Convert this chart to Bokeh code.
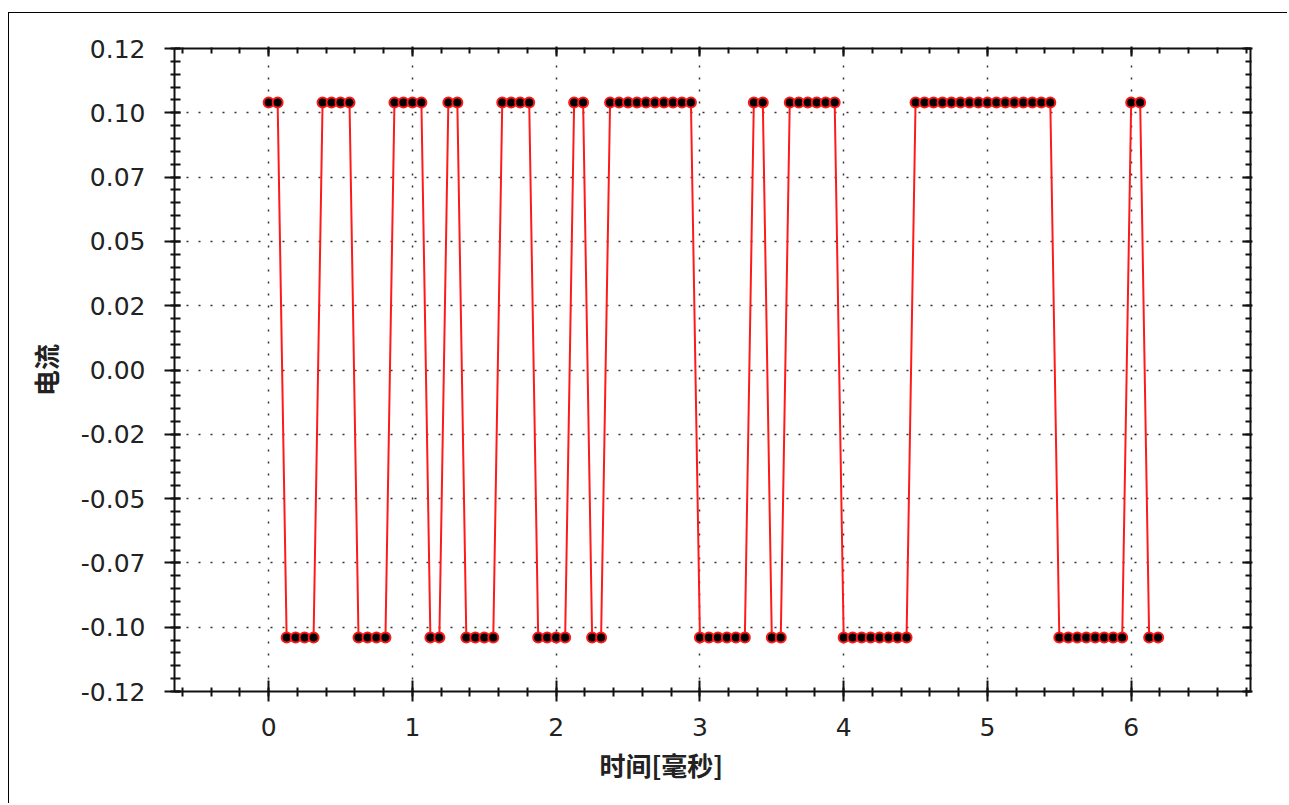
import numpy as np
from bokeh.plotting import figure
from bokeh.models import LinearAxis, FixedTicker, Range1d, ColumnDataSource, Title
from bokeh.embed import file_html
from bokeh.resources import INLINE

# ---- data ----
time_ms = [
    0.0, 0.0625, 0.125, 0.1875, 0.25, 0.3125, 0.375, 0.4375, 0.5, 0.5625,
    0.625, 0.6875, 0.75, 0.8125, 0.875, 0.9375, 1.0, 1.0625, 1.125, 1.1875,
    1.25, 1.3125, 1.375, 1.4375, 1.5, 1.5625, 1.625, 1.6875, 1.75, 1.8125,
    1.875, 1.9375, 2.0, 2.0625, 2.125, 2.1875, 2.25, 2.3125, 2.375, 2.4375,
    2.5, 2.5625, 2.625, 2.6875, 2.75, 2.8125, 2.875, 2.9375, 3.0, 3.0625,
    3.125, 3.1875, 3.25, 3.3125, 3.375, 3.4375, 3.5, 3.5625, 3.625, 3.6875,
    3.75, 3.8125, 3.875, 3.9375, 4.0, 4.0625, 4.125, 4.1875, 4.25, 4.3125,
    4.375, 4.4375, 4.5, 4.5625, 4.625, 4.6875, 4.75, 4.8125, 4.875, 4.9375,
    5.0, 5.0625, 5.125, 5.1875, 5.25, 5.3125, 5.375, 5.4375, 5.5, 5.5625,
    5.625, 5.6875, 5.75, 5.8125, 5.875, 5.9375, 6.0, 6.0625, 6.125, 6.1875,
]
current = [
    0.104, 0.104, -0.104, -0.104, -0.104, -0.104, 0.104, 0.104, 0.104, 0.104,
    -0.104, -0.104, -0.104, -0.104, 0.104, 0.104, 0.104, 0.104, -0.104, -0.104,
    0.104, 0.104, -0.104, -0.104, -0.104, -0.104, 0.104, 0.104, 0.104, 0.104,
    -0.104, -0.104, -0.104, -0.104, 0.104, 0.104, -0.104, -0.104, 0.104, 0.104,
    0.104, 0.104, 0.104, 0.104, 0.104, 0.104, 0.104, 0.104, -0.104, -0.104,
    -0.104, -0.104, -0.104, -0.104, 0.104, 0.104, -0.104, -0.104, 0.104, 0.104,
    0.104, 0.104, 0.104, 0.104, -0.104, -0.104, -0.104, -0.104, -0.104, -0.104,
    -0.104, -0.104, 0.104, 0.104, 0.104, 0.104, 0.104, 0.104, 0.104, 0.104,
    0.104, 0.104, 0.104, 0.104, 0.104, 0.104, 0.104, 0.104, -0.104, -0.104,
    -0.104, -0.104, -0.104, -0.104, -0.104, -0.104, 0.104, 0.104, -0.104, -0.104,
]
x_ticks = [0, 1, 2, 3, 4, 5, 6]
x_tick_labels = ["0", "1", "2", "3", "4", "5", "6"]
y_ticks = [-0.125, -0.1, -0.075, -0.05, -0.025, 0.0, 0.025, 0.05, 0.075, 0.1, 0.125]
y_tick_labels = ["-0.12", "-0.10", "-0.07", "-0.05", "-0.02", "0.00",
                 "0.02", "0.05", "0.07", "0.10", "0.12"]
x_label = "时间[毫秒]"
y_label = "电流"

# ---- figure ----
x_minor = [round(v, 3) for v in np.arange(-0.6, 6.81, 0.2)]
y_minor = [round(v, 4) for v in np.arange(-0.125, 0.12501, 0.005)]
xt = FixedTicker(ticks=x_ticks, minor_ticks=x_minor)
yt = FixedTicker(ticks=y_ticks, minor_ticks=y_minor)

p = figure(width=1279, height=791,
           x_range=Range1d(-0.655, 6.83), y_range=Range1d(-0.125, 0.125),
           output_backend="svg", toolbar_location=None,
           min_border_left=165, min_border_right=38,
           min_border_top=35, min_border_bottom=113)
p.margin = (12, 0, 0, 8)
p.styles = {"border-top": "1px solid #000", "border-left": "1px solid #000"}
p.outline_line_color = None
p.background_fill_color = "white"
p.border_fill_color = "white"

TICK_FONT = "DejaVu Sans"
TICK_COLOR = "#222222"
AX_COLOR = "#111111"

xa = p.xaxis[0]
xa.ticker = xt
xa.major_label_overrides = {v: s for v, s in zip(x_ticks, x_tick_labels)}
ya = p.yaxis[0]
ya.ticker = yt
ya.major_label_overrides = {v: s for v, s in zip(y_ticks, y_tick_labels)}

for ax in (xa, ya):
    ax.axis_line_color = AX_COLOR
    ax.axis_line_width = 2
    ax.major_tick_line_color = AX_COLOR
    ax.major_tick_line_width = 2
    ax.minor_tick_line_color = AX_COLOR
    ax.minor_tick_line_width = 2
    ax.major_label_text_font = TICK_FONT
    ax.major_label_text_font_size = "25px"
    ax.major_label_text_color = TICK_COLOR
    ax.axis_label_text_font = "Noto Sans CJK SC"
    ax.axis_label_text_font_size = "26px"
    ax.axis_label_text_font_style = "bold"
    ax.axis_label_text_color = "#222222"

xa.major_tick_in = 11
xa.major_tick_out = 10
xa.minor_tick_in = 4
xa.minor_tick_out = 5
xa.major_label_standoff = 16

# x-axis title: the reference places it left of the frame centre
p.add_layout(Title(text=x_label, align="left", offset=425, standoff=10,
                   text_font="Noto Sans CJK SC", text_font_size="26px",
                   text_font_style="bold", text_color="#222222"), "below")

ya.axis_label = y_label
ya.major_tick_in = 6
ya.major_tick_out = 10
ya.minor_tick_in = 6
ya.minor_tick_out = 4
ya.major_label_standoff = 19
ya.axis_label_standoff = 14

top = LinearAxis(ticker=xt, major_label_text_font_size="1px",
                 major_label_text_color=None,
                 major_label_standoff=0, axis_label_standoff=0)
right = LinearAxis(ticker=yt, major_label_text_font_size="1px",
                   major_label_text_color=None,
                   major_label_standoff=0, axis_label_standoff=0)
for ax in (top, right):
    ax.axis_line_color = AX_COLOR
    ax.axis_line_width = 2
    ax.major_tick_line_color = AX_COLOR
    ax.major_tick_line_width = 2
    ax.minor_tick_line_color = AX_COLOR
    ax.minor_tick_line_width = 2
    ax.major_tick_in = 8
    ax.major_tick_out = 2
    ax.minor_tick_in = 5
    ax.minor_tick_out = 1
p.add_layout(top, "above")
p.add_layout(right, "right")

p.xgrid.ticker = xt
p.ygrid.ticker = yt
p.grid.grid_line_color = "#333333"
p.grid.grid_line_width = 1.5
p.grid.grid_line_dash = "2 10"

src = ColumnDataSource(dict(t=time_ms, i=current))
p.line("t", "i", source=src, line_color="#ff1a1a", line_width=2)
p.scatter("t", "i", source=src, size=10, fill_color="black",
          line_color="#ff1a1a", line_width=2)

open("out.html", "w").write(file_html(p, INLINE))
